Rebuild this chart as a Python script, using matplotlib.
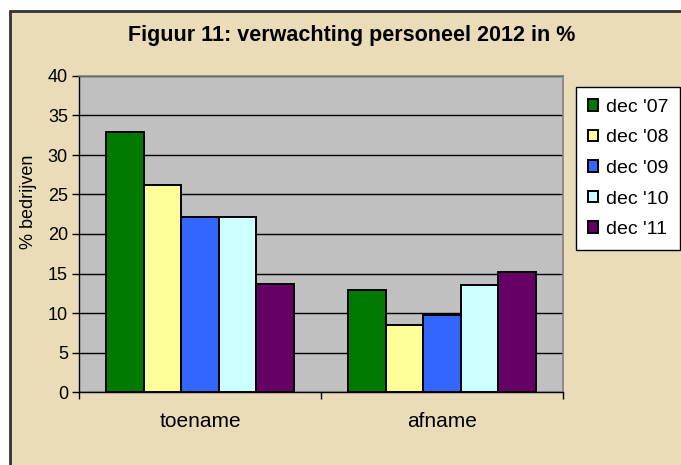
import matplotlib
matplotlib.use("Agg")
import matplotlib.pyplot as plt
from matplotlib.patches import Rectangle
import numpy as np

plt.rcParams['font.family'] = ['Liberation Sans', 'DejaVu Sans']

categories = ["toename", "afname"]
series_labels = ["dec '07", "dec '08", "dec '09", "dec '10", "dec '11"]
dec07 = [32.9, 12.9]
dec08 = [26.2, 8.5]
dec09 = [22.2, 9.8]
dec10 = [22.2, 13.5]
dec11 = [13.7, 15.2]
series = [dec07, dec08, dec09, dec10, dec11]
colors = ["#007A00", "#FFFF99", "#3366FF", "#CCFFFF", "#660066"]
yticks = [0, 5, 10, 15, 20, 25, 30, 35, 40]

W, H = 681, 465
fig = plt.figure(figsize=(W / 100, H / 100), dpi=100, facecolor="white")

# chart frame (parchment area)
frame = Rectangle((9.5 / W, -0.05), 1.2, 1 - 10.5 / H + 0.05,
                  transform=fig.transFigure, facecolor="#EBDCB9",
                  edgecolor="#333333", linewidth=2, zorder=-10)
fig.patches.append(frame)

ax = fig.add_axes([79 / W, 1 - 392 / H, (563 - 79) / W, (392 - 76) / H])
ax.set_zorder(2)
ax.set_facecolor("#C0C0C0")

x = np.arange(len(categories))
w = 0.155
for i, (vals, lab, col) in enumerate(zip(series, series_labels, colors)):
    ax.bar(x + (i - 2) * w, vals, width=w, color=col, edgecolor="black",
           linewidth=1.4, label=lab, zorder=3)

ax.set_ylim(0, 40)
ax.set_xlim(-0.5, 1.5)
ax.set_yticks(yticks)
ax.yaxis.grid(True, color="black", linewidth=1, zorder=1)
ax.set_axisbelow(True)

ax.set_xticks([-0.5, 0.5, 1.5])
ax.set_xticklabels([])
ax.set_xticks(x, minor=True)
ax.set_xticklabels(categories, minor=True, fontsize=15)
ax.tick_params(axis="x", which="minor", length=0, pad=14.5)
ax.tick_params(axis="x", which="major", length=5, direction="out", width=1)
ax.tick_params(axis="y", length=5, direction="out", width=1, labelsize=13, pad=3)

for s in ["top", "right"]:
    ax.spines[s].set_color("#808080")
    ax.spines[s].set_linewidth(1.2)
for s in ["left", "bottom"]:
    ax.spines[s].set_color("black")
    ax.spines[s].set_linewidth(1)

fig.text(28.5 / W, 1 - 202 / H, "% bedrijven", rotation=90,
         ha="center", va="center", fontsize=13)

fig.text(352 / W, 1 - 35 / H,
         "Figuur 11: verwachting personeel 2012 in %",
         ha="center", va="center", fontsize=15.5, fontweight="bold")

leg = fig.legend(loc="upper left", bbox_to_anchor=(576 / W, 1 - 87 / H),
                 borderaxespad=0, fontsize=14, frameon=True, fancybox=False,
                 edgecolor="black", facecolor="white", framealpha=1,
                 handlelength=0.55, handleheight=0.55, handletextpad=0.4,
                 labelspacing=0.7, borderpad=0.6)
leg.set_zorder(5)
leg.get_frame().set_linewidth(1)

fig.savefig("out.png", dpi=100, facecolor="white")
